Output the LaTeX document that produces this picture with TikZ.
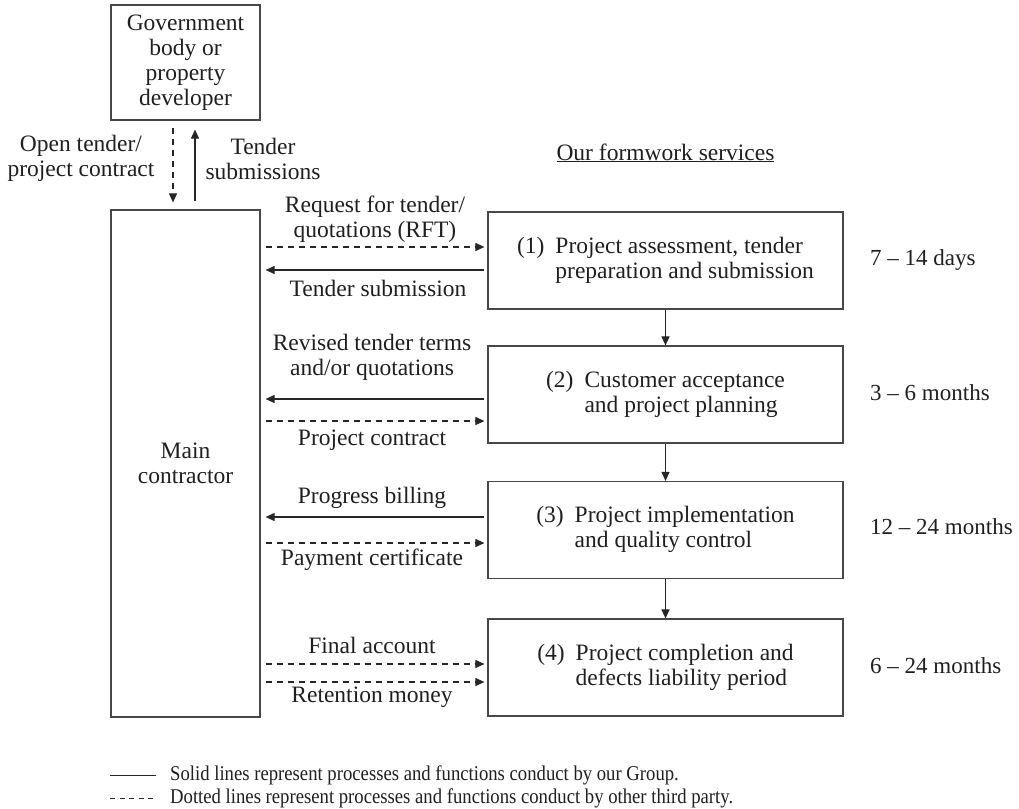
\documentclass[tikz,border=0pt]{standalone}
\usepackage{fontspec}
\setmainfont{Liberation Serif}
\usepackage{graphicx}
\usetikzlibrary{arrows.meta}

\begin{document}
\begin{tikzpicture}[x=1pt,y=-1pt,
  every node/.style={font=\fontsize{23.5}{25}\selectfont, text=black!88, inner sep=0pt},
  frame/.style={draw=black!72, line width=1.2pt},
  stepbox/.style={frame, minimum width=355pt, minimum height=97pt, align=center},
  solidarr/.style={draw=black!85, line width=1.1pt, -{Triangle[length=9pt,width=8pt]}},
  dasharr/.style={solidarr, dash pattern=on 6pt off 5pt},
  hlink/.style={shorten <=5pt, shorten >=3pt},
  hback/.style={shorten <=3pt, shorten >=5pt},
  lbl/.style={align=center},
  duration/.style={anchor=west, font=\fontsize{23}{25}\selectfont},
  legendtxt/.style={anchor=west, font=\fontsize{21}{23}\selectfont}
]
\useasboundingbox (0,0) rectangle (1019,808);

% parties
\node[frame, minimum width=149pt, minimum height=115pt, align=center] (gov) at (185.5,62.5)
  {Government\\body or\\property\\developer};
\node[frame, minimum width=149pt, minimum height=507pt, align=center] (main) at (185.5,463.5)
  {Main\\contractor};

% tender flow between developer and main contractor
\draw[dasharr, shorten <=7pt, shorten >=7pt] ([xshift=-12.5pt]gov.south) -- ([xshift=-12.5pt]main.north);
\draw[solidarr, shorten <=8pt, shorten >=9pt] ([xshift=9.5pt]main.north) -- ([xshift=9.5pt]gov.south);
\node[lbl] (opentender) at (81,158) {Open tender/\\project contract};
\node[lbl] (tendersub) at (263,158.5) {Tender\\submissions};

% heading
\node[anchor=base] (heading) at (665.5,160) {\underline{Our formwork services}};

% service stages
\node[stepbox] (s1) at (665.5,260.5)
  {\begin{tabular}{@{}l@{\hspace{11pt}}l@{}}(1)&Project assessment, tender\\&preparation and submission\end{tabular}};
\node[stepbox] (s2) at (665.5,394.5)
  {\begin{tabular}{@{}l@{\hspace{11pt}}l@{}}(2)&Customer acceptance\\&and project planning\end{tabular}};
\node[stepbox] (s3) at (665.5,530)
  {\begin{tabular}{@{}l@{\hspace{11pt}}l@{}}(3)&Project implementation\\&and quality control\end{tabular}};
\node[stepbox] (s4) at (665.5,667.5)
  {\begin{tabular}{@{}l@{\hspace{11pt}}l@{}}(4)&Project completion and\\&defects liability period\end{tabular}};

\draw[solidarr] (s1.south) -- (s2.north);
\draw[solidarr] (s2.south) -- (s3.north);
\draw[solidarr] (s3.south) -- (s4.north);

% durations
\node[duration] (t1) at (870,260) {7 \textendash\ 14 days};
\node[duration] (t2) at (870,393) {3 \textendash\ 6 months};
\node[duration] (t3) at (870,527) {12 \textendash\ 24 months};
\node[duration] (t4) at (870,666) {6 \textendash\ 24 months};

% stage 1 exchanges
\coordinate (a1) at ([yshift=13.5pt]s1.west);
\coordinate (b1) at ([yshift=-9.5pt]s1.west);
\draw[dasharr, hlink] (main.east |- a1) -- (a1);
\draw[solidarr, hback] (b1) -- (main.east |- b1);
\node[lbl] (rft) at (375,219.5) {Request for tender/\\quotations (RFT)};
\node[lbl] (tsub) at (378,288) {Tender submission};

% stage 2 exchanges
\coordinate (a2) at ([yshift=-4.5pt]s2.west);
\coordinate (b2) at ([yshift=-26.5pt]s2.west);
\draw[solidarr, hback] (a2) -- (main.east |- a2);
\draw[dasharr, hlink] (main.east |- b2) -- (b2);
\node[lbl] (revised) at (372,357.5) {Revised tender terms\\and/or quotations};
\node[lbl] (pcontract) at (372,440) {Project contract};

% stage 3 exchanges
\coordinate (a3) at ([yshift=13pt]s3.west);
\coordinate (b3) at ([yshift=-13pt]s3.west);
\draw[solidarr, hback] (a3) -- (main.east |- a3);
\draw[dasharr, hlink] (main.east |- b3) -- (b3);
\node[lbl] (billing) at (372,498) {Progress billing};
\node[lbl] (paycert) at (372,560) {Payment certificate};

% stage 4 exchanges
\coordinate (a4) at ([yshift=3.5pt]s4.west);
\coordinate (b4) at ([yshift=-14.5pt]s4.west);
\draw[dasharr, hlink] (main.east |- a4) -- (a4);
\draw[dasharr, hlink] (main.east |- b4) -- (b4);
\node[lbl] (final) at (372,645) {Final account};
\node[lbl] (retention) at (372,697) {Retention money};

% legend
\draw[draw=black!85, line width=0.9pt] (110,775) -- (156,775);
\draw[draw=black!85, line width=0.9pt, dash pattern=on 5pt off 4.5pt] (110,798) -- (156,798);
\node[legendtxt] (leg1) at (170,775) {\scalebox{0.89}[1]{Solid lines represent processes and functions conduct by our Group.}};
\node[legendtxt] (leg2) at (170,798) {\scalebox{0.89}[1]{Dotted lines represent processes and functions conduct by other third party.}};
\end{tikzpicture}
\end{document}
